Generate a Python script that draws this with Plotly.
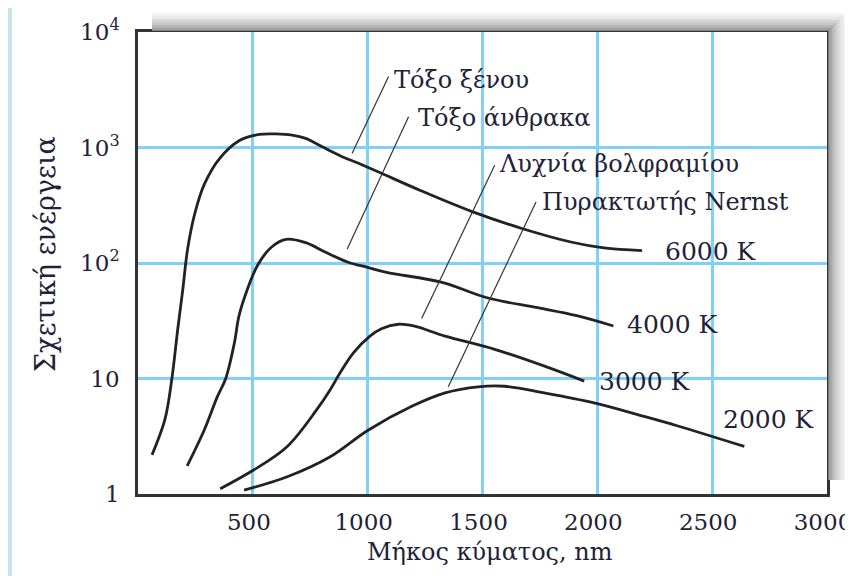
import numpy as np
import plotly.graph_objects as go

# ---------------- data ----------------
wl_6000 = [61, 117, 147, 173, 195, 216, 247, 290, 355, 442, 528,
           600, 671, 730, 800, 880, 960, 1050, 1235, 1452, 1668, 1885, 2029, 2195]
en_6000 = [2.18, 4.4, 9.8, 26.7, 59, 132, 267, 486, 802, 1150, 1297,
           1310, 1280, 1200, 1020, 850, 730, 610, 420, 280, 200, 152, 135, 128]

wl_4000 = [214, 289, 346, 382, 419, 440, 476, 520, 577, 644, 730, 817, 918, 996, 1082,
           1324, 1520, 1740, 1910, 2070]
en_4000 = [1.75, 3.6, 7.0, 10, 20, 35, 59, 95, 135, 160, 150, 124, 101, 92, 83,
           68, 50, 41, 35, 28.5]

wl_3000 = [358, 505, 650, 779, 837, 880, 938, 1010, 1060, 1134, 1200, 1337, 1553, 1770, 1943]
en_3000 = [1.11, 1.62, 2.58, 5.4, 8.0, 11.2, 16.7, 23.3, 27, 29.5, 28.5, 23.3, 17.9, 12.8, 9.5]

wl_2000 = [462, 650, 837, 1000, 1192, 1337, 1481, 1596, 1770, 1986, 2203, 2347, 2640]
en_2000 = [1.08, 1.41, 2.1, 3.55, 5.74, 7.5, 8.47, 8.57, 7.5, 6.15, 4.7, 3.9, 2.58]

temp_labels = ["6000 K", "4000 K", "3000 K", "2000 K"]
temp_label_x = [2285, 2122, 2000, 2537]
temp_label_y = [125, 29.5, 9.5, 4.4]

source_names = ["Τόξο ξένου", "Τόξο άνθρακα", "Λυχνία βολφραμίου", "Πυρακτωτής Nernst"]
leader_x = [[932, 1091], [911, 1178], [1235, 1553], [1351, 1733]]
leader_y = [[887, 4120], [132, 1850], [33, 702], [8.47, 337]]
source_label_x = [1104, 1212, 1563, 1752]
source_label_y = [3850, 1787, 726, 337]

x_ticks = [500, 1000, 1500, 2000, 2500, 3000]
y_ticks = [1, 10, 100, 1000, 10000]
y_ticktext = ["1", "10", "10<sup>2</sup>", "10<sup>3</sup>", "10<sup>4</sup>"]

x_title = "Μήκος κύματος, nm"
y_title = "Σχετική ενέργεια"

# ---------------- styling ----------------
FONT = "DejaVu Serif"
TXT = "#1f2238"
CURVE = "#222222"
GRID = "#7fd2f3"
FRAME = "#c8e4e9"

# the page body adds an 8 px margin, so the figure is laid out 8 px up/left
OFF = 8
FIG_W, FIG_H = 853 - OFF, 576 - OFF

fig = go.Figure()

for xs, ys in [(wl_6000, en_6000), (wl_4000, en_4000), (wl_3000, en_3000), (wl_2000, en_2000)]:
    fig.add_trace(go.Scatter(x=xs, y=ys, mode="lines",
                             line=dict(color=CURVE, width=2.8, shape="spline", smoothing=1.0),
                             hoverinfo="skip", showlegend=False))

for lx, ly in zip(leader_x, leader_y):
    fig.add_trace(go.Scatter(x=lx, y=ly, mode="lines",
                             line=dict(color="#333333", width=1.2),
                             hoverinfo="skip", showlegend=False))

# plot area in page pixels: x 138..827, y 32..494
L, R, T, B = 138 - OFF, 827 - OFF, 32 - OFF, 494 - OFF
W, H = R - L, B - T


def px(v):
    return (v - OFF - L) / W


def py(v):
    return (B - (v - OFF)) / H


annotations = []
for t, x, y in zip(temp_labels, temp_label_x, temp_label_y):
    annotations.append(dict(x=x, y=np.log10(y), xref="x", yref="y", text=t, showarrow=False,
                            xanchor="left", yanchor="middle",
                            font=dict(family=FONT, size=25, color=TXT)))
for t, x, y in zip(source_names, source_label_x, source_label_y):
    annotations.append(dict(x=x, y=np.log10(y), xref="x", yref="y", text=t, showarrow=False,
                            xanchor="left", yanchor="middle",
                            font=dict(family=FONT, size=24, color=TXT)))
# axis titles
annotations.append(dict(x=px(490), y=py(552), xref="paper", yref="paper", text=x_title,
                        showarrow=False, xanchor="center", yanchor="middle",
                        font=dict(family=FONT, size=24, color=TXT)))
annotations.append(dict(x=px(45), y=py(254), xref="paper", yref="paper", text=y_title,
                        showarrow=False, xanchor="center", yanchor="middle", textangle=-90,
                        font=dict(family=FONT, size=27, color=TXT)))


def rect(x0, x1, y0, y1, color, layer="above"):
    # page-pixel coordinates (y downward) -> paper coordinates
    return dict(type="rect", xref="paper", yref="paper", layer=layer,
                x0=px(x0), x1=px(x1), y0=py(y1), y1=py(y0),
                fillcolor=color, line=dict(width=0))


shapes = []
# light-blue frame band on the left and top
shapes.append(rect(0, 12, 0, 590, FRAME))
shapes.append(rect(0, 870, 0, 7, FRAME))
# drop shadow: L-shaped gradient strips (light outside -> dark next to the box)
n = 10
step = 19 / n
for k in range(n):
    g = int(244 - (244 - 140) * (k / (n - 1)) ** 1.4)
    col = f"rgb({g},{g},{g})"
    y_top = 13 + k * step
    x_out = 846 - k * step
    shapes.append(rect(152, x_out, y_top, min(y_top + step + 0.3, 30.8), col))
    shapes.append(rect(max(x_out - step - 0.3, 828.3), x_out, y_top, 480, col))

fig.update_layout(
    width=FIG_W, height=FIG_H,
    margin=dict(l=L, r=FIG_W - R, t=T, b=FIG_H - B, autoexpand=False),
    paper_bgcolor="white",
    plot_bgcolor="white",
    shapes=shapes,
    annotations=annotations,
    font=dict(family=FONT, size=23, color=TXT),
    showlegend=False,
)

fig.update_xaxes(range=[0, 3000], tickvals=x_ticks, ticks="", showgrid=True,
                 gridcolor=GRID, gridwidth=2.5, zeroline=False, automargin=False,
                 showline=True, linecolor="#333333", linewidth=2.5, mirror=True,
                 tickfont=dict(family=FONT, size=23, color=TXT), ticklabelstandoff=6,
                 ticklabelshift=-4, ticklabeloverflow="allow")
fig.update_yaxes(type="log", range=[0, 4], tickvals=y_ticks, ticktext=y_ticktext, ticks="",
                 showgrid=True, gridcolor=GRID, gridwidth=2.5, zeroline=False, automargin=False,
                 showline=True, linecolor="#333333", linewidth=2.5, mirror=True,
                 tickfont=dict(family=FONT, size=23, color=TXT), ticklabelstandoff=11)

fig.write_html("out.html", config={"displayModeBar": False})
